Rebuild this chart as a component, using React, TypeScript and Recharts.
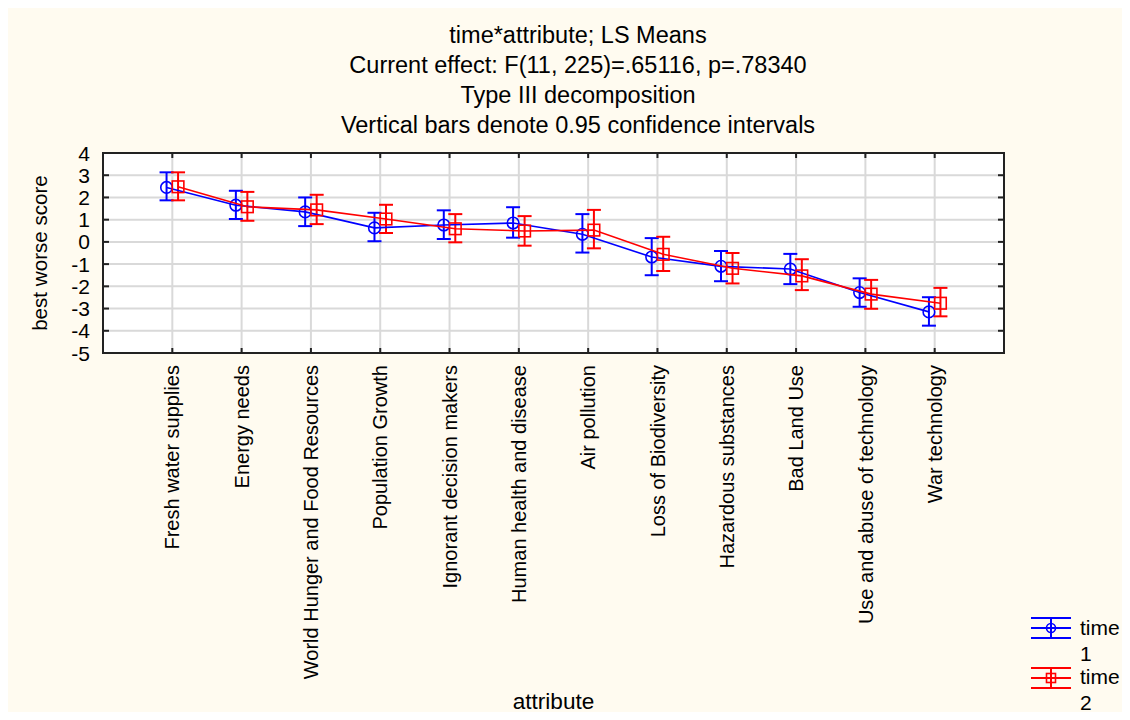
import { ComposedChart, Scatter, ErrorBar, XAxis, YAxis, CartesianGrid, ReferenceArea } from "recharts";

const categories = [
    "Fresh water supplies",
    "Energy needs",
    "World Hunger and Food Resources",
    "Population Growth",
    "Ignorant decision makers",
    "Human health and disease",
    "Air pollution",
    "Loss of Biodiversity",
    "Hazardous substances",
    "Bad Land Use",
    "Use and abuse of technology",
    "War technology",
];

// LS means with lower / upper 0.95 confidence limits
const time1Mean = [2.45, 1.65, 1.35, 0.63, 0.76, 0.85, 0.34, -0.68, -1.1, -1.22, -2.28, -3.15];
const time1Low = [1.87, 1.03, 0.71, 0.03, 0.13, 0.19, -0.48, -1.5, -1.77, -1.9, -2.92, -3.77];
const time1High = [3.13, 2.3, 2.0, 1.31, 1.42, 1.56, 1.25, 0.17, -0.41, -0.54, -1.64, -2.49];

const time2Mean = [2.48, 1.58, 1.44, 1.03, 0.59, 0.49, 0.53, -0.56, -1.19, -1.53, -2.35, -2.76];
const time2Low = [1.87, 0.95, 0.8, 0.4, -0.02, -0.17, -0.29, -1.31, -1.87, -2.17, -3.01, -3.35];
const time2High = [3.13, 2.25, 2.12, 1.67, 1.25, 1.16, 1.44, 0.23, -0.5, -0.78, -1.71, -2.07];

const yTicks = [-5, -4, -3, -2, -1, 0, 1, 2, 3, 4];
const xTicks = categories.map((_, i) => i + 1);

const FONT = "'Liberation Sans', Arial, sans-serif";
const W = 1122;
const H = 712;
const PLOT_TOP = 145;
const PLOT_BOTTOM = 345;
const PLOT_LEFT = 95;
const PLOT_RIGHT = 996;
const DODGE = 0.083;

const rows = (mean: number[], low: number[], high: number[], shift: number) =>
    mean.map((m, i) => ({ x: i + 1 + shift, y: m, err: [m - low[i], high[i] - m] }));

const time1Rows = rows(time1Mean, time1Low, time1High, -DODGE);
const time2Rows = rows(time2Mean, time2Low, time2High, DODGE);

const YTick = (props: any) => {
    const { x, y, payload } = props;
    return (
        <g>
            <line x1={x} x2={x + 6} y1={y} y2={y} stroke="#222" strokeWidth={2} />
            <line x1={PLOT_RIGHT - 6} x2={PLOT_RIGHT} y1={y} y2={y} stroke="#222" strokeWidth={2} />
            <text x={x - 13} y={y} dy="0.36em" textAnchor="end" fontFamily={FONT} fontSize={21} fill="#000">
                {payload.value}
            </text>
        </g>
    );
};

const XTick = (props: any) => {
    const { x, y, payload } = props;
    const label = categories[payload.value - 1];
    const ty = y + 12;
    return (
        <g>
            <line x1={x} x2={x} y1={y - 5} y2={y} stroke="#222" strokeWidth={2} />
            <line x1={x} x2={x} y1={PLOT_TOP} y2={PLOT_TOP + 5} stroke="#222" strokeWidth={2} />
            <text
                x={x}
                y={ty}
                dy="0.36em"
                transform={`rotate(-90, ${x}, ${ty})`}
                textAnchor="end"
                fontFamily={FONT}
                fontSize={20}
                fill="#000"
            >
                {label}
            </text>
        </g>
    );
};

const Circle = (props: any) => (
    <circle cx={props.cx} cy={props.cy} r={5.8} fill="none" stroke="#0000ff" strokeWidth={1.6} />
);

const Square = (props: any) => (
    <rect x={props.cx - 5.8} y={props.cy - 5.8} width={11.6} height={11.6} fill="none" stroke="#ff0000" strokeWidth={1.6} />
);

const titleLines = [
    "time*attribute; LS Means",
    "Current effect: F(11, 225)=.65116, p=.78340",
    "Type III decomposition",
    "Vertical bars denote 0.95 confidence intervals",
];

const LegendKey = ({ color, square }: { color: string; square: boolean }) => (
    <svg width={42} height={24} style={{ display: "block", flex: "none" }}>
        <line x1={1} x2={41} y1={2} y2={2} stroke={color} strokeWidth={2} />
        <line x1={1} x2={41} y1={12} y2={12} stroke={color} strokeWidth={2} />
        <line x1={1} x2={41} y1={22} y2={22} stroke={color} strokeWidth={2} />
        <line x1={21} x2={21} y1={2} y2={22} stroke={color} strokeWidth={2} />
        {square ? (
            <rect x={16.5} y={7.5} width={9} height={9} fill="none" stroke={color} strokeWidth={1.6} />
        ) : (
            <circle cx={21} cy={12} r={4.5} fill="none" stroke={color} strokeWidth={1.6} />
        )}
    </svg>
);

const App = () => {
    return (
        <div
            style={{
                position: "relative",
                width: W,
                height: H,
                marginBottom: -8,
                background: "#fffbf0",
                overflow: "hidden",
                fontFamily: FONT,
            }}
        >
            {titleLines.map((t, i) => (
                <div
                    key={t}
                    style={{
                        position: "absolute",
                        left: 570 - 400,
                        width: 800,
                        top: 13 + i * 30,
                        textAlign: "center",
                        fontSize: 23.5,
                        lineHeight: "28px",
                        color: "#000",
                    }}
                >
                    {t}
                </div>
            ))}
            <ComposedChart width={W} height={H} margin={{ top: PLOT_TOP, right: W - PLOT_RIGHT, bottom: 0, left: 0 }}>
                <CartesianGrid fill="#ffffff" stroke="#d9d9d9" strokeWidth={2} />
                <XAxis
                    type="number"
                    dataKey="x"
                    domain={[0, 13]}
                    ticks={xTicks}
                    interval={0}
                    height={H - PLOT_BOTTOM}
                    tickSize={0}
                    tickMargin={0}
                    tick={<XTick />}
                    axisLine={{ stroke: "#222", strokeWidth: 2 }}
                    allowDataOverflow
                />
                <YAxis
                    type="number"
                    dataKey="y"
                    domain={[-5, 4]}
                    ticks={yTicks}
                    interval={0}
                    width={PLOT_LEFT}
                    tickSize={0}
                    tickMargin={0}
                    tick={<YTick />}
                    axisLine={{ stroke: "#222", strokeWidth: 2 }}
                    allowDataOverflow
                />
                <ReferenceArea x1={0} x2={13} y1={-5} y2={4} fill="none" stroke="#222" strokeWidth={2} ifOverflow="visible" />
                <Scatter
                    name="time 1"
                    data={time1Rows}
                    line={{ stroke: "#0000ff", strokeWidth: 1.6 }}
                    shape={<Circle />}
                    isAnimationActive={false}
                >
                    <ErrorBar dataKey="err" direction="y" width={7} stroke="#0000ff" strokeWidth={2} isAnimationActive={false} />
                </Scatter>
                <Scatter
                    name="time 2"
                    data={time2Rows}
                    line={{ stroke: "#ff0000", strokeWidth: 1.6 }}
                    shape={<Square />}
                    isAnimationActive={false}
                >
                    <ErrorBar dataKey="err" direction="y" width={7} stroke="#ff0000" strokeWidth={2} isAnimationActive={false} />
                </Scatter>
            </ComposedChart>
            <div style={{ position: "absolute", left: 32, top: 245, width: 0, height: 0 }}>
                <div
                    style={{
                        position: "absolute",
                        transform: "translate(-50%, -50%) rotate(-90deg)",
                        whiteSpace: "nowrap",
                        fontSize: 20.6,
                        color: "#000",
                    }}
                >
                    best worse score
                </div>
            </div>
            <div style={{ position: "absolute", left: PLOT_LEFT, width: PLOT_RIGHT - PLOT_LEFT, top: 680, textAlign: "center", fontSize: 22.6, lineHeight: "28px", color: "#000" }}>
                attribute
            </div>
            <div style={{ position: "absolute", left: 1022, top: 608, fontSize: 21, lineHeight: "26px", color: "#000", whiteSpace: "nowrap" }}>
                <div style={{ display: "flex", alignItems: "flex-start", gap: 8 }}>
                    <LegendKey color="#0000ff" square={false} />
                    <div style={{ marginTop: -1 }}>time<br />1</div>
                </div>
                <div style={{ display: "flex", alignItems: "flex-start", gap: 8, marginTop: -1 }}>
                    <LegendKey color="#ff0000" square />
                    <div style={{ marginTop: -2 }}>time<br />2</div>
                </div>
            </div>
        </div>
    );
};

export default App;
